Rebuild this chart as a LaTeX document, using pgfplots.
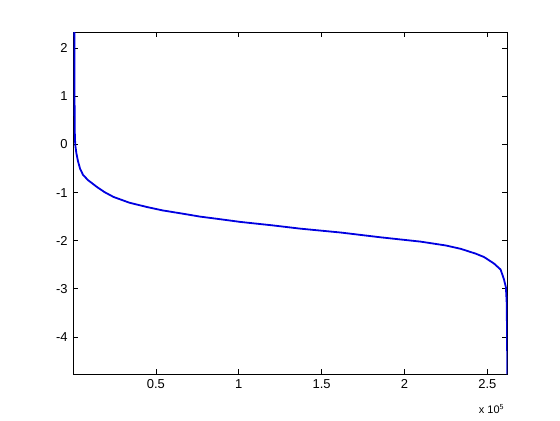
\documentclass[border=0pt]{standalone}
\usepackage{pgfplots}
\pgfplotsset{compat=1.18}
\usepackage{fontspec}
\setmainfont{Liberation Sans}
\usetikzlibrary{calc}
\begin{document}
\fontsize{13}{15}\selectfont
\begin{tikzpicture}
\begin{axis}[
  name=ax,
  scale only axis,
  width=434bp, height=342bp,
  xmin=0, xmax=2.6214,
  ymin=-4.78, ymax=2.34,
  xtick={0.5,1,1.5,2,2.5},
  xticklabels={0.5,1,1.5,2,2.5},
  ytick={-4,-3,-2,-1,0,1,2},
  tick align=inside,
  tick pos=both,
  major tick length=5bp,
  axis line style={line width=0.6bp},
  every tick/.style={black, line width=0.6bp},
  /pgf/number format/assume math mode=true,
  tick label style={font=\fontsize{13}{15}\selectfont},
  xticklabel style={yshift=-1bp},
  yticklabel style={xshift=-1bp},
  clip=true,
]
\addplot[color={rgb,1:red,0;green,0;blue,0.88}, line width=1.8bp] coordinates {
(0.008,2.34) (0.009,1.0) (0.010,0.3) (0.013,0.0) (0.02,-0.18) (0.03,-0.35)
(0.042,-0.50) (0.06,-0.63) (0.09,-0.74) (0.143,-0.88) (0.19,-0.99)
(0.244,-1.09) (0.34,-1.21) (0.446,-1.30) (0.54,-1.37)
(0.647,-1.43) (0.768,-1.50) (0.88,-1.55) (1.01,-1.61) (1.2,-1.68) (1.372,-1.75)
(1.614,-1.83) (1.856,-1.93) (2.098,-2.02) (2.25,-2.10) (2.34,-2.17)
(2.43,-2.27) (2.48,-2.34) (2.54,-2.475) (2.58,-2.6)
(2.60,-2.80) (2.612,-2.97) (2.617,-3.3) (2.619,-4.0) (2.6205,-4.78)
};
\end{axis}
\node[anchor=east, inner sep=0pt] at ($(ax.south east)+(-3bp,-35bp)$) {\fontsize{11}{13}\selectfont x 10$^{\mathsf{5}}$};
\path[use as bounding box] ($(ax.south west)+(-73bp,-46bp)$) rectangle ($(ax.north east)+(52.5bp,32bp)$);
\end{tikzpicture}
\end{document}
